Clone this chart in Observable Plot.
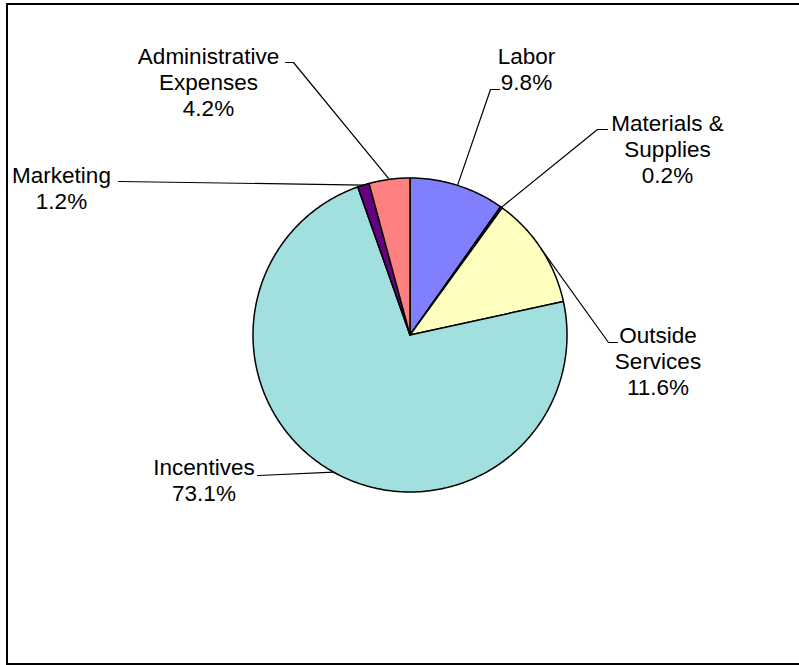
<!DOCTYPE html>
<html><head><meta charset="utf-8">
<script src="https://cdn.jsdelivr.net/npm/d3@7"></script>
<script src="https://cdn.jsdelivr.net/npm/@observablehq/plot@0.6"></script>
<style>
html,body{margin:0;padding:0;overflow:hidden;background:#fff;width:799px;height:665px;}
#chart{position:absolute;left:0;top:0;}
#frame{position:absolute;left:6px;top:3px;width:1200px;height:658px;border-left:2px solid #000;border-top:2px solid #000;border-bottom:2px solid #000;pointer-events:none;}
</style></head><body>
<div id="chart"></div><div id="frame"></div>
<script>
// ---- data ----
const categories = ["Labor", "Materials & Supplies", "Outside Services", "Incentives", "Marketing", "Administrative Expenses"];
const shares = [9.8, 0.2, 11.6, 73.1, 1.2, 4.2];
const percentLabels = ["9.8%", "0.2%", "11.6%", "73.1%", "1.2%", "4.2%"];
const labelLines = [["Labor"], ["Materials &", "Supplies"], ["Outside", "Services"], ["Incentives"], ["Marketing"], ["Administrative", "Expenses"]];
const sliceColors = ["#8080FF", "#993366", "#FFFFC0", "#A2E0E0", "#660080", "#FF8080"];

// ---- layout (pixels) ----
const W = 799, H = 665, CX = 409.5, CY = 334.5, R = 157, LH = 26, FS = 22.5;
const labelLayout = [
  {x: 526, y: 63.5, elbow: [490, 89], end: [499, 89]},
  {x: 667, y: 130, elbow: [597, 129], end: [607, 129]},
  {x: 657.5, y: 342, elbow: [608, 342], end: [617, 342]},
  {x: 203.5, y: 474, elbow: [258, 475], end: [257, 475]},
  {x: 61, y: 182, elbow: [119, 181], end: [118, 181]},
  {x: 208, y: 63.3, elbow: [293, 62], end: [285, 62]}
];

const pie = d3.pie().sort(null).startAngle(0).endAngle(2 * Math.PI)(shares);
const pt = a => ({x: CX + R * Math.sin(a), y: CY - R * Math.cos(a)});

const slicePts = [];
const leaderPts = [];
const textRows = [];
pie.forEach((s, i) => {
  const cat = categories[i];
  slicePts.push({cat, x: CX, y: CY});
  const n = Math.max(2, Math.ceil((s.endAngle - s.startAngle) / 0.01));
  for (let k = 0; k <= n; k++) {
    const a = s.startAngle + (s.endAngle - s.startAngle) * k / n;
    slicePts.push({cat, ...pt(a)});
  }
  slicePts.push({cat, x: CX, y: CY});

  const L = labelLayout[i];
  const mid = (s.startAngle + s.endAngle) / 2;
  leaderPts.push({cat, ...pt(mid)});
  leaderPts.push({cat, x: L.elbow[0], y: L.elbow[1]});
  leaderPts.push({cat, x: L.end[0], y: L.end[1]});

  labelLines[i].concat([percentLabels[i]]).forEach((t, j) => {
    textRows.push({t, x: L.x, y: L.y + j * LH});
  });
});

const chart = Plot.plot({
  width: W, height: H, margin: 0,
  x: {type: "linear", domain: [0, W], range: [0, W], axis: null},
  y: {type: "linear", domain: [0, H], range: [0, H], axis: null},
  color: {domain: categories, range: sliceColors},
  style: {background: "transparent", fontFamily: "'Liberation Sans', Arial, sans-serif", color: "#000"},
  marks: [
    Plot.line(slicePts, {x: "x", y: "y", z: "cat", fill: "cat", stroke: "#000", strokeWidth: 1.5, strokeLinejoin: "round", curve: "linear"}),
    Plot.line(leaderPts, {x: "x", y: "y", z: "cat", stroke: "#000", strokeWidth: 1.2, curve: "linear"}),
    Plot.text(textRows, {x: "x", y: "y", text: "t", fontSize: FS, textAnchor: "middle", lineAnchor: "bottom", fill: "#000"})
  ]
});
document.getElementById("chart").appendChild(chart);
</script>
</body></html>
